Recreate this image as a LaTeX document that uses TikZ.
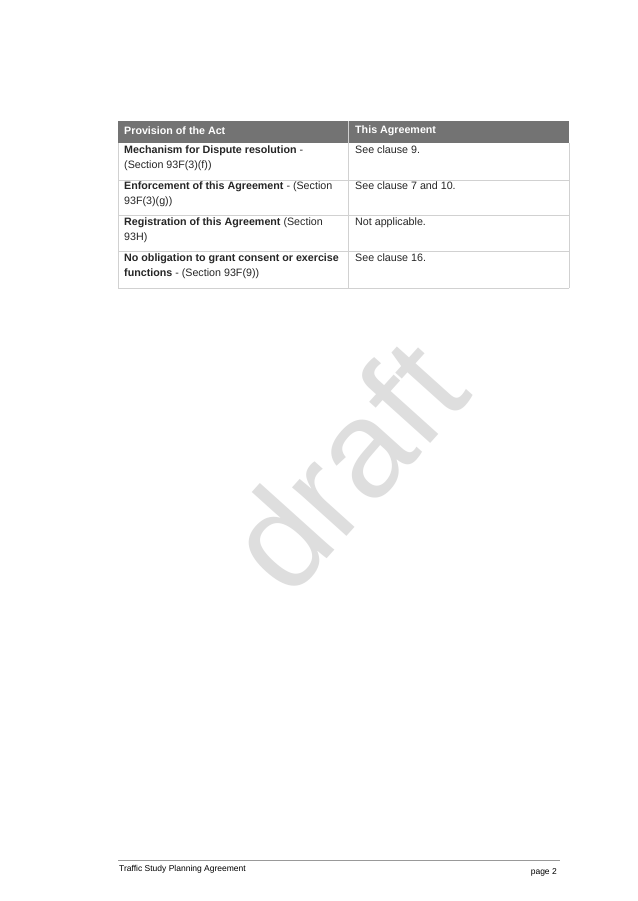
\documentclass[tikz,border=0pt]{standalone}
\usepackage{fontspec}
\setmainfont{Liberation Sans}
\begin{document}
\begin{tikzpicture}[x=1pt,y=-1pt,
  cell/.style={anchor=north west,align=left,font=\fontsize{10.7}{14.5}\selectfont,text=black!85,inner sep=0pt},
  hdr/.style={anchor=west,font=\bfseries\fontsize{10.7}{13}\selectfont,text=white,inner sep=0pt},
  rule/.style={draw=black!18,line width=0.6pt}]
\useasboundingbox (0,0) rectangle (637,901);
\fill[white] (0,0) rectangle (637,901);
\node[rotate=48,text=black!13,font=\fontsize{138}{138}\selectfont] (wm) at (345,465) {draft};
\fill[black!55] (118,121) rectangle (569,143);
\node[hdr] (h1) at (124,131) {Provision of the Act};
\node[hdr] (h2) at (355,131) {This Agreement};
\foreach \y in {180,215,251,288} \draw[rule] (118,\y) -- (569,\y);
\draw[rule] (118,143) -- (118,288);
\draw[rule] (348,121) -- (348,288);
\draw[rule] (569,143) -- (569,288);
\node[cell] (a1) at (124,146) {\textbf{Mechanism for Dispute resolution} -\\(Section 93F(3)(f))};
\node[cell] (b1) at (355,146) {See clause 9.};
\node[cell] (a2) at (124,182) {\textbf{Enforcement of this Agreement} - (Section\\93F(3)(g))};
\node[cell] (b2) at (355,182) {See clause 7 and 10.};
\node[cell] (a3) at (124,218) {\textbf{Registration of this Agreement} (Section\\93H)};
\node[cell] (b3) at (355,218) {Not applicable.};
\node[cell] (a4) at (124,254) {\textbf{No obligation to grant consent or exercise}\\\textbf{functions} - (Section 93F(9))};
\node[cell] (b4) at (355,254) {See clause 16.};
\draw[black!40,line width=0.6pt] (118,860) -- (560,860);
\node[anchor=west,inner sep=0pt,font=\fontsize{8.5}{9}\selectfont] (f1) at (119,869) {Traffic Study Planning Agreement};
\node[anchor=east,inner sep=0pt,font=\fontsize{8.5}{9}\selectfont] (f2) at (557,872) {page 2};
\end{tikzpicture}
\end{document}
